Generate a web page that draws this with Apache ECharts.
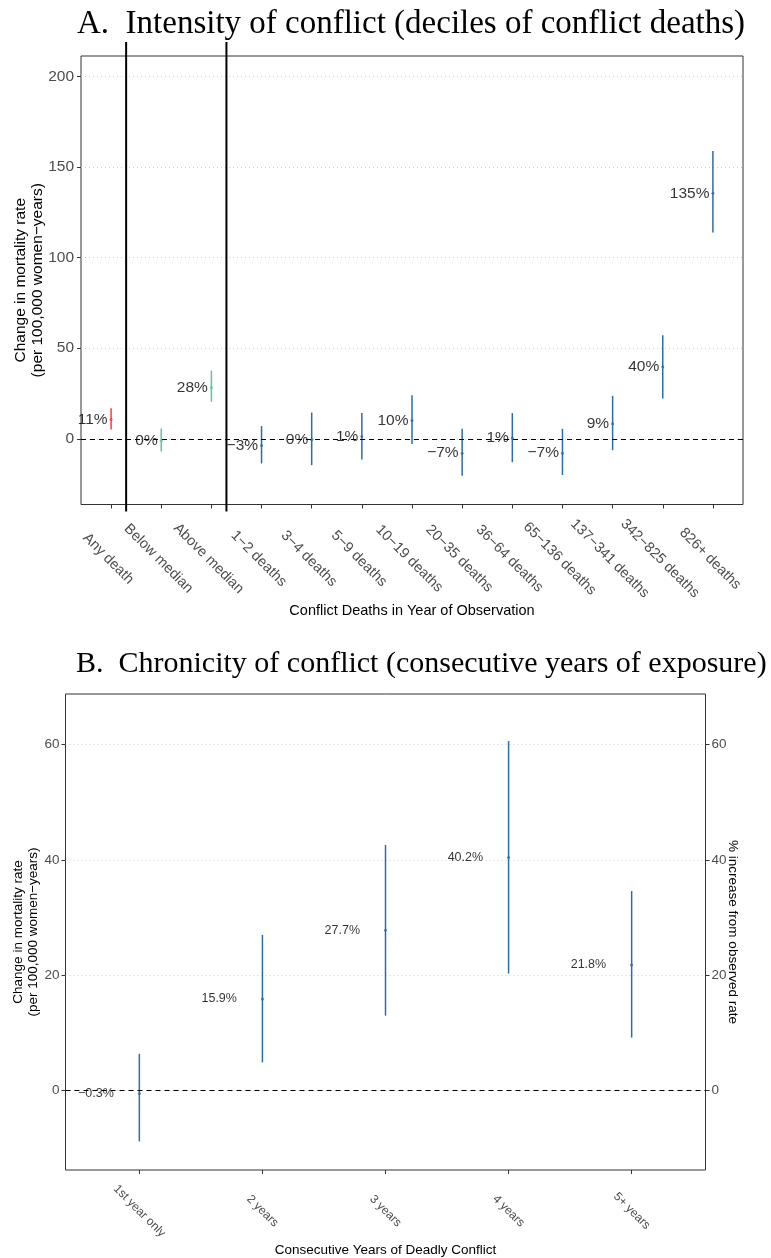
<!DOCTYPE html>
<html><head><meta charset="utf-8">
<script src="https://cdn.jsdelivr.net/npm/echarts@6/dist/echarts.min.js"></script>
<style>html,body{margin:0;padding:0;background:#fff}#c{width:771px;height:1258px}</style>
</head><body><div id="c"></div>
<script>
// ---- Panel A data ----
const catsA = ['Any death','Below median','Above median','1−2 deaths','3−4 deaths','5−9 deaths','10−19 deaths','20−35 deaths','36−64 deaths','65−136 deaths','137−341 deaths','342−825 deaths','826+ deaths'];
const estA  = [10.7, -0.9, 28.3, -3.7, -0.5, 1.3, 10.1, -7.9, 0.4, -7.9, 8.3, 39.7, 135.5];
const lowA  = [5.2, -7.0, 20.4, -13.6, -14.5, -11.4, -2.9, -20.4, -12.9, -20.0, -6.3, 22.2, 113.8];
const highA = [16.9, 5.7, 37.6, 7.0, 14.5, 14.2, 24.0, 5.5, 14.2, 5.5, 23.7, 57.2, 158.8];
const pctA  = ['11%','0%','28%','−3%','0%','1%','10%','−7%','1%','−7%','9%','40%','135%'];
const groupA = ['any','median','median','decile','decile','decile','decile','decile','decile','decile','decile','decile','decile'];
const sepA = [0.3, 2.3];
const yTicksA = [0, 50, 100, 150, 200];
const yLimA = [-25, 200];
// ---- Panel B data ----
const catsB = ['1st year only','2 years','3 years','4 years','5+ years'];
const estB  = [-0.5, 15.9, 27.8, 40.4, 21.8];
const lowB  = [-8.8, 4.9, 13.0, 20.3, 9.2];
const highB = [6.4, 27.0, 42.6, 60.6, 34.6];
const pctB  = ['−0.3%','15.9%','27.7%','40.2%','21.8%'];
const yTicksB = [0, 20, 40, 60];
const yLimB = [-10, 65];

const groupColor = {any:'#FF3B3B', median:'#5CC4A0', decile:'#2E6CA4'};
const SANS = 'Liberation Sans', SERIF = 'Liberation Serif';

function expand(lim){ const r = lim[1]-lim[0]; return [lim[0]-0.05*r, lim[1]+0.05*r]; }
const yA = expand(yLimA), yB = expand(yLimB);
const idxA = catsA.map((_, i) => i), idxB = catsB.map((_, i) => i);

function errRender(params, api){
  const x = api.value(0);
  const p1 = api.coord([x, api.value(1)]), p2 = api.coord([x, api.value(2)]);
  return {type:'line', shape:{x1:p1[0], y1:p1[1], x2:p2[0], y2:p2[1]},
          style:{stroke: api.visual('color'), lineWidth: 1.5}};
}
function sepRender(params, api){
  const x = api.value(0);
  const t = api.coord([x, yA[1]]), b = api.coord([x, yA[0]]);
  return {type:'line', shape:{x1:t[0], y1:t[1]-14, x2:b[0], y2:b[1]+7},
          style:{stroke:'#000', lineWidth: 2}};
}
const zeroLine = {silent:true, symbol:'none', label:{show:false},
  lineStyle:{color:'#000', type:[5,4], width:1}, data:[{yAxis:0}]};
const noLine = {show:false, onZero:false};

const chart = echarts.init(document.getElementById('c'), null, {renderer:'canvas'});
const option = {
  animation:false,
  backgroundColor:'#fff',
  title:[
    {text:'A.  Intensity of conflict (deciles of conflict deaths)', left:72, top:3,
     textStyle:{fontFamily:SERIF, fontSize:33, fontWeight:'normal', color:'#000'}},
    {text:'B.  Chronicity of conflict (consecutive years of exposure)', left:71, top:644,
     textStyle:{fontFamily:SERIF, fontSize:30, fontWeight:'normal', color:'#000'}}
  ],
  grid:[
    {left:81, top:56, width:662, height:448.5, show:true, borderColor:'#333', borderWidth:1, backgroundColor:'transparent'},
    {left:65.5, top:694, width:640, height:478, show:true, borderColor:'#333', borderWidth:1, backgroundColor:'transparent'}
  ],
  xAxis:[
    {type:'value', gridIndex:0, min:-0.6, max:12.6,
     axisLine:noLine, splitLine:{show:false},
     axisTick:{show:true, customValues:idxA, length:4, lineStyle:{color:'#333'}},
     axisLabel:{customValues:idxA, formatter:v => catsA[Math.round(v)], rotate:-45, align:'center', verticalAlign:'middle',
                margin:57, padding:[8,8,0,0], fontFamily:SANS, fontSize:14.5, color:'#4D4D4D'},
     name:'Conflict Deaths in Year of Observation', nameLocation:'middle', nameGap:99, nameMoveOverlap:false,
     nameTextStyle:{fontFamily:SANS, fontSize:14.5, color:'#000'}},
    {type:'value', gridIndex:1, min:-0.6, max:4.6,
     axisLine:noLine, splitLine:{show:false},
     axisTick:{show:true, customValues:idxB, length:4, lineStyle:{color:'#333'}},
     axisLabel:{customValues:idxB, formatter:v => catsB[Math.round(v)], rotate:-45, align:'center', verticalAlign:'middle',
                margin:41, fontFamily:SANS, fontSize:12, color:'#4D4D4D'},
     name:'Consecutive Years of Deadly Conflict', nameLocation:'middle', nameGap:73, nameMoveOverlap:false,
     nameTextStyle:{fontFamily:SANS, fontSize:13.5, color:'#000'}}
  ],
  yAxis:[
    {type:'value', gridIndex:0, min:yA[0], max:yA[1],
     axisLine:noLine,
     axisTick:{show:true, customValues:yTicksA, length:4, lineStyle:{color:'#333'}},
     axisLabel:{customValues:yTicksA, margin:7, fontFamily:SANS, fontSize:15.5, color:'#4D4D4D'},
     splitLine:{show:true, lineStyle:{color:'#cccccc', type:[1,3], width:1}},
     name:'Change in mortality rate\n(per 100,000 women−years)', nameLocation:'middle', nameGap:35, nameMoveOverlap:false,
     nameTextStyle:{fontFamily:SANS, fontSize:15.5, lineHeight:17, color:'#000'}},
    {type:'value', gridIndex:1, min:yB[0], max:yB[1],
     axisLine:noLine,
     axisTick:{show:true, customValues:yTicksB, length:4, lineStyle:{color:'#333'}},
     axisLabel:{customValues:yTicksB, margin:6, fontFamily:SANS, fontSize:13.5, color:'#4D4D4D'},
     splitLine:{show:true, lineStyle:{color:'#cccccc', type:[1,3], width:1}},
     name:'Change in mortality rate\n(per 100,000 women−years)', nameLocation:'middle', nameGap:25, nameMoveOverlap:false,
     nameTextStyle:{fontFamily:SANS, fontSize:13.5, lineHeight:15, color:'#000'}},
    {type:'value', gridIndex:1, min:yB[0], max:yB[1], position:'right',
     axisLine:noLine,
     axisTick:{show:true, customValues:yTicksB, length:4, lineStyle:{color:'#333'}},
     axisLabel:{customValues:yTicksB, margin:6, fontFamily:SANS, fontSize:13.5, color:'#4D4D4D'},
     splitLine:{show:false},
     name:'% increase from observed rate', nameLocation:'middle', nameGap:20, nameRotate:-90, nameMoveOverlap:false,
     nameTextStyle:{fontFamily:SANS, fontSize:13.5, color:'#000'}}
  ],
  series:[
    {type:'custom', xAxisIndex:0, yAxisIndex:0, renderItem:errRender, silent:true,
     data: idxA.map(i => ({value:[i, lowA[i], highA[i]], itemStyle:{color:groupColor[groupA[i]]}})),
     markLine: zeroLine, z:3},
    {type:'scatter', xAxisIndex:0, yAxisIndex:0, symbolSize:3, silent:true,
     data: idxA.map(i => ({value:[i, estA[i]], itemStyle:{color:groupColor[groupA[i]]}})),
     label:{show:true, position:'left', distance:2, formatter:p => pctA[p.dataIndex],
            fontFamily:SANS, fontSize:15.5, color:'#000'}, z:4},
    {type:'custom', xAxisIndex:0, yAxisIndex:0, renderItem:sepRender, clip:false, silent:true,
     data: sepA.map(x => [x]), z:5},
    {type:'custom', xAxisIndex:1, yAxisIndex:1, renderItem:errRender, silent:true,
     data: idxB.map(i => ({value:[i, lowB[i], highB[i]], itemStyle:{color:groupColor.decile}})),
     markLine: zeroLine, z:3},
    {type:'scatter', xAxisIndex:1, yAxisIndex:1, symbolSize:3, silent:true,
     data: idxB.map(i => [i, estB[i]]), itemStyle:{color:groupColor.decile},
     label:{show:true, position:'left', distance:24, formatter:p => pctB[p.dataIndex],
            fontFamily:SANS, fontSize:12.5, color:'#000'}, z:4}
  ]
};
chart.setOption(option);
</script>
</body></html>
